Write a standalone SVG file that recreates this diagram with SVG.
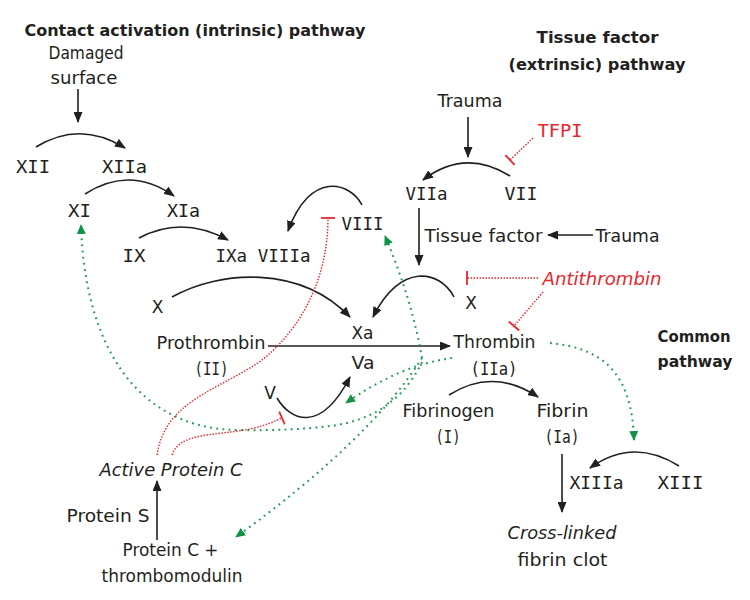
<svg xmlns="http://www.w3.org/2000/svg" width="750" height="600" viewBox="0 0 750 600">
<style>
text{font-family:'DejaVu Sans','Liberation Sans',sans-serif;font-size:17px;fill:#231f20;text-anchor:middle}
.m{font-family:'DejaVu Sans Mono','Liberation Mono',monospace;font-size:18px}
.b{font-weight:bold;font-size:16px}
.r{fill:#e8262b}
.i{font-style:italic}
.k{fill:none;stroke:#231f20;stroke-width:1.6;marker-end:url(#ah)}
.g{fill:none;stroke:#1f9a4e;stroke-width:2;stroke-dasharray:1.8 4.4;marker-end:url(#gh)}
.rd{fill:none;stroke:#e8262b;stroke-width:1.4;stroke-dasharray:1.5 1.5;marker-end:url(#tee)}
</style>
<defs>
<marker id="ah" markerUnits="userSpaceOnUse" markerWidth="11" markerHeight="9" viewBox="0 0 11 9" refX="10" refY="4.5" orient="auto"><path d="M0,0 L11,4.5 L0,9 z" fill="#231f20"/></marker>
<marker id="gh" markerUnits="userSpaceOnUse" markerWidth="10" markerHeight="9" viewBox="0 0 10 9" refX="9" refY="4.5" orient="auto"><path d="M0,0 L10,4.5 L0,9 z" fill="#0e9347"/></marker>
<marker id="tee" markerUnits="userSpaceOnUse" markerWidth="4" markerHeight="14" viewBox="0 0 4 14" refX="2" refY="7" orient="auto"><path d="M2,0 L2,14" stroke="#e8262b" stroke-width="1.8"/></marker>
</defs>
<rect width="750" height="600" fill="#fff"/>

<g id="connectors">
<path class="k" d="M78,89 L78,122"/>
<path class="k" d="M36,147 Q80,120 125,148"/>
<path class="k" d="M85,194 Q130,165 174,196"/>
<path class="k" d="M139,238 Q182,215 228,240"/>
<path class="k" d="M362,205 C350,182 310,170 288,231"/>
<path class="k" d="M172,297 C220,270 300,265 350,317"/>
<path class="k" d="M468,117 L468,157"/>
<path class="k" d="M510,176 Q465,148 423,180"/>
<path class="k" d="M419,208 L419,265"/>
<path class="k" d="M593,235 L548,235"/>
<path class="k" d="M454,297 C440,270 400,262 373,317"/>
<path class="k" d="M268,346 L450,346"/>
<path class="k" d="M277,398 C290,420 320,435 350,377"/>
<path class="k" d="M449,395 Q493,367 538,397"/>
<path class="k" d="M562,454 L562,512"/>
<path class="k" d="M679,466 Q633,437 590,468"/>
<path class="k" d="M157,540 L157,481"/>
<path class="g" d="M422,362 Q395,418 330,426 Q290,431 240,430 C140,430 85,350 81,225"/>
<path class="g" d="M422,358 Q412,300 385,236"/>
<path class="g" d="M452,358 Q400,365 346,403"/>
<path class="g" d="M422,358 Q370,440 236,537"/>
<path class="g" d="M550,343 C600,348 632,370 634,440"/>
<path class="rd" d="M533,138 L510,160"/>
<path class="rd" d="M538,278 L467,278"/>
<path class="rd" d="M543,292 L514,326"/>
<path class="rd" d="M157,455 C165,400 220,390 262,360 C300,330 328,280 328,218"/>
<path class="rd" d="M172,455 C180,432 215,436 250,429 C265,426 275,421 282,418"/>
</g>

<g id="title-intrinsic"><text class="b" x="195" y="36" textLength="341" lengthAdjust="spacingAndGlyphs">Contact activation (intrinsic) pathway</text></g>
<g id="title-extrinsic"><text class="b" x="597.5" y="43" textLength="122" lengthAdjust="spacingAndGlyphs">Tissue factor</text><text class="b" x="597" y="70" textLength="177" lengthAdjust="spacingAndGlyphs">(extrinsic) pathway</text></g>
<g id="title-common"><text class="b" x="694" y="342" textLength="73" lengthAdjust="spacingAndGlyphs">Common</text><text class="b" x="695" y="367" textLength="75" lengthAdjust="spacingAndGlyphs">pathway</text></g>

<g id="damaged-surface"><text x="86" y="59" textLength="75" lengthAdjust="spacingAndGlyphs">Damaged</text><text x="84" y="84" textLength="67" lengthAdjust="spacingAndGlyphs">surface</text></g>
<g id="XII"><text class="m" x="33" y="173" textLength="34" lengthAdjust="spacingAndGlyphs">XII</text></g>
<g id="XIIa"><text class="m" x="124.5" y="173" textLength="45" lengthAdjust="spacingAndGlyphs">XIIa</text></g>
<g id="XI"><text class="m" x="79.5" y="217" textLength="23" lengthAdjust="spacingAndGlyphs">XI</text></g>
<g id="XIa"><text class="m" x="183.5" y="217" textLength="33" lengthAdjust="spacingAndGlyphs">XIa</text></g>
<g id="IX"><text class="m" x="134" y="262" textLength="23" lengthAdjust="spacingAndGlyphs">IX</text></g>
<g id="IXa-VIIIa"><text class="m" x="263" y="262" textLength="95" lengthAdjust="spacingAndGlyphs">IXa VIIIa</text></g>
<g id="VIII"><text class="m" x="362.5" y="230" textLength="42" lengthAdjust="spacingAndGlyphs">VIII</text></g>
<g id="X-left"><text x="157.5" y="313">X</text></g>
<g id="Xa"><text x="362.5" y="339" textLength="22" lengthAdjust="spacingAndGlyphs">Xa</text></g>
<g id="prothrombin"><text x="211" y="349" textLength="109" lengthAdjust="spacingAndGlyphs">Prothrombin</text><text class="m" x="211.5" y="375" textLength="34" lengthAdjust="spacingAndGlyphs">(II)</text></g>
<g id="Va"><text x="363" y="369" textLength="23" lengthAdjust="spacingAndGlyphs">Va</text></g>
<g id="V"><text x="270" y="399">V</text></g>
<g id="trauma-top"><text x="470" y="107" textLength="65" lengthAdjust="spacingAndGlyphs">Trauma</text></g>
<g id="TFPI"><text class="r m" x="560" y="137" textLength="45" lengthAdjust="spacingAndGlyphs">TFPI</text></g>
<g id="VIIa"><text class="m" x="426.5" y="200" textLength="42" lengthAdjust="spacingAndGlyphs">VIIa</text></g>
<g id="VII"><text class="m" x="521" y="200" textLength="33" lengthAdjust="spacingAndGlyphs">VII</text></g>
<g id="tissue-factor"><text x="483.5" y="242" textLength="118" lengthAdjust="spacingAndGlyphs">Tissue factor</text></g>
<g id="trauma-right"><text x="627.5" y="242" textLength="64" lengthAdjust="spacingAndGlyphs">Trauma</text></g>
<g id="antithrombin"><text class="r i" x="602" y="285" textLength="119" lengthAdjust="spacingAndGlyphs">Antithrombin</text></g>
<g id="X-right"><text x="471" y="309">X</text></g>
<g id="thrombin"><text x="494.5" y="348" textLength="82" lengthAdjust="spacingAndGlyphs">Thrombin</text><text class="m" x="494" y="375" textLength="47" lengthAdjust="spacingAndGlyphs">(IIa)</text></g>
<g id="fibrinogen"><text x="448.5" y="417" textLength="92" lengthAdjust="spacingAndGlyphs">Fibrinogen</text><text class="m" x="448" y="443" textLength="25" lengthAdjust="spacingAndGlyphs">(I)</text></g>
<g id="fibrin"><text x="562.5" y="417" textLength="52" lengthAdjust="spacingAndGlyphs">Fibrin</text><text class="m" x="562" y="443" textLength="35" lengthAdjust="spacingAndGlyphs">(Ia)</text></g>
<g id="XIIIa"><text class="m" x="596.5" y="489" textLength="54" lengthAdjust="spacingAndGlyphs">XIIIa</text></g>
<g id="XIII"><text class="m" x="680.5" y="489" textLength="46" lengthAdjust="spacingAndGlyphs">XIII</text></g>
<g id="clot"><text class="i" x="562" y="539" textLength="109" lengthAdjust="spacingAndGlyphs">Cross-linked</text><text x="562.5" y="566" textLength="90" lengthAdjust="spacingAndGlyphs">fibrin clot</text></g>
<g id="active-protein-c"><text class="i" x="171" y="476" textLength="143" lengthAdjust="spacingAndGlyphs">Active Protein C</text></g>
<g id="protein-s"><text x="108" y="522" textLength="83" lengthAdjust="spacingAndGlyphs">Protein S</text></g>
<g id="protein-c-thrombomodulin"><text x="170.5" y="556" textLength="96" lengthAdjust="spacingAndGlyphs">Protein C +</text><text x="172" y="582" textLength="141" lengthAdjust="spacingAndGlyphs">thrombomodulin</text></g>
</svg>
